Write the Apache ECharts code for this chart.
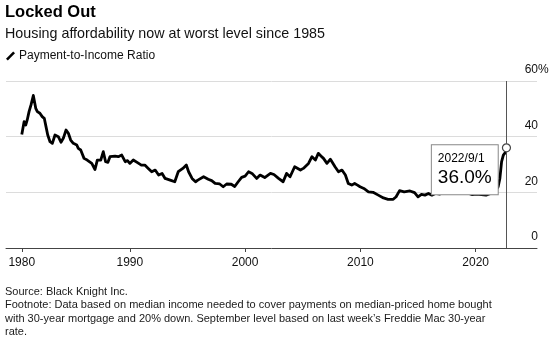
<!DOCTYPE html>
<html>
<head>
<meta charset="utf-8">
<script src="https://cdn.jsdelivr.net/npm/echarts@6/dist/echarts.min.js"></script>
<style>
  html, body { margin: 0; padding: 0; background: #fff; }
  #chart { width: 560px; height: 353px; }
</style>
</head>
<body>
<div id="chart"></div>
<script>
// decimal years
const dates = [
  1980.63, 1980.83, 1980.97, 1981.10, 1981.26, 1981.43, 1981.63, 1981.84, 1981.98, 1982.20,
  1982.40, 1982.58, 1982.73, 1982.88, 1983.08, 1983.28, 1983.51, 1983.80, 1984.03, 1984.23,
  1984.47, 1984.67, 1984.87, 1985.10, 1985.40, 1985.53, 1985.74, 1986.03, 1986.30, 1986.70,
  1986.98, 1987.18, 1987.48, 1987.70, 1987.90, 1988.10, 1988.28, 1988.72, 1989.00, 1989.30,
  1989.60, 1989.80, 1990.00, 1990.30, 1990.70, 1991.00, 1991.30, 1991.60, 1991.90, 1992.20,
  1992.50, 1992.80, 1993.06, 1993.50, 1993.90, 1994.20, 1994.60, 1994.90, 1995.10, 1995.40,
  1995.70, 1995.90, 1996.40, 1996.80, 1997.10, 1997.40, 1997.80, 1998.10, 1998.40, 1998.80,
  1999.10, 1999.40, 1999.70, 2000.00, 2000.30, 2000.60, 2001.00, 2001.30, 2001.70, 2002.20,
  2002.50, 2002.90, 2003.30, 2003.60, 2003.90, 2004.30, 2004.80, 2005.05, 2005.50, 2005.80,
  2006.10, 2006.35, 2006.60, 2006.80, 2007.10, 2007.40, 2007.80, 2008.10, 2008.40, 2008.70,
  2008.95, 2009.25, 2009.50, 2009.75, 2009.97, 2010.30, 2010.70, 2011.10, 2011.55, 2012.00,
  2012.40, 2012.85, 2013.10, 2013.40, 2013.80, 2014.30, 2014.70, 2015.00, 2015.30, 2015.60,
  2015.90, 2016.20, 2016.50, 2016.90, 2017.30, 2017.70, 2018.10, 2018.50, 2018.90, 2019.30,
  2019.70, 2020.10, 2020.50, 2020.90, 2021.30, 2021.70, 2021.95, 2022.10, 2022.25, 2022.40,
  2022.55, 2022.67
];

// payment-to-income ratio, %
const ratio = [
  40.8, 45.4, 44.2, 46.0, 49.0, 51.4, 54.8, 50.2, 49.0, 48.4,
  47.2, 46.6, 43.6, 40.6, 38.2, 37.6, 40.6, 40.0, 38.0, 39.4,
  42.4, 41.2, 38.8, 37.6, 37.0, 35.8, 35.2, 32.2, 31.6, 30.4,
  28.2, 31.6, 31.6, 34.6, 31.0, 30.8, 32.8, 33.0, 32.8, 33.4,
  31.0, 31.4, 30.4, 31.6, 30.6, 29.8, 29.8, 28.6, 27.4, 28.0,
  26.2, 26.8, 25.0, 24.4, 23.8, 27.4, 28.6, 29.8, 27.4, 25.0,
  23.8, 24.4, 25.6, 24.7, 24.2, 23.2, 23.0, 22.0, 23.0, 22.9,
  22.1, 23.8, 25.4, 25.8, 27.4, 26.8, 25.0, 26.2, 25.3, 26.8,
  26.4, 25.0, 23.8, 26.8, 25.6, 29.2, 28.0, 28.6, 30.4, 32.8,
  31.6, 34.0, 33.0, 32.2, 30.4, 31.9, 29.2, 27.4, 28.0, 26.2,
  23.2, 22.6, 23.2, 22.6, 22.0, 21.4, 20.2, 20.0, 19.0, 18.0,
  17.5, 17.5, 18.4, 20.6, 20.2, 20.5, 19.9, 18.4, 19.3, 19.0,
  19.6, 19.0, 19.6, 19.4, 20.0, 19.6, 20.2, 20.6, 20.4, 19.8,
  19.2, 19.4, 19.2, 19.0, 19.6, 20.4, 22.0, 25.0, 31.0, 33.4,
  34.2, 36.0
];

const yearTicks = [1980.63, 1990, 2000, 2010, 2020];
const yTicks = [0, 20, 40, 60];
const lastLabel = '2022/9/1';

const FONT = '"Liberation Sans", Arial, sans-serif';
const chart = echarts.init(document.getElementById('chart'));

const last = dates.length - 1;

const option = {
  animation: false,
  textStyle: { fontFamily: FONT },
  title: {
    text: 'Locked Out',
    subtext: 'Housing affordability now at worst level since 1985',
    left: 5,
    top: 4,
    padding: 0,
    itemGap: 6,
    textStyle: { fontSize: 16.5, fontWeight: 'bold', color: '#000', fontFamily: FONT },
    subtextStyle: { fontSize: 14.3, color: '#111', fontFamily: FONT }
  },
  legend: {
    left: 6,
    top: 50,
    padding: 0,
    itemWidth: 9,
    itemHeight: 9,
    itemGap: 6,
    icon: 'path://M0,9 L8,1 L10,3 L2,11 Z',
    textStyle: { fontSize: 12, color: '#111', fontFamily: FONT, padding: [0, 0, 0, -1] },
    data: ['Payment-to-Income Ratio']
  },
  grid: { left: 6, right: 23, top: 81, bottom: 105 },
  xAxis: {
    type: 'value',
    min: 1979.26,
    max: 2025.32,
    splitLine: { show: false },
    axisLine: { lineStyle: { color: '#444', width: 1 } },
    axisTick: { show: true, length: 4, lineStyle: { color: '#444' }, customValues: yearTicks },
    axisLabel: {
      color: '#111',
      fontSize: 12,
      margin: 9,
      customValues: yearTicks,
      formatter: v => String(Math.floor(v))
    }
  },
  yAxis: {
    type: 'value',
    position: 'right',
    min: 0,
    max: 60,
    interval: 20,
    axisLine: { show: false },
    axisTick: { show: false },
    splitLine: { lineStyle: { color: '#dcdcdc', width: 1 } },
    axisLabel: {
      inside: true,
      margin: -1,
      color: '#111',
      fontSize: 12,
      verticalAlign: 'bottom',
      lineHeight: 12,
      padding: [0, 0, 5, 0],
      customValues: yTicks,
      formatter: v => String(v)
    }
  },
  graphic: [
    {
      type: 'text',
      left: 538,
      top: 64,
      style: { text: '%', fontSize: 12, fill: '#111', fontFamily: FONT }
    },
    {
      type: 'text',
      left: 5,
      top: 285,
      style: {
        text: 'Source: Black Knight Inc.\n' +
          'Footnote: Data based on median income needed to cover payments on median-priced home bought\n' +
          'with 30-year mortgage and 20% down. September level based on last week\u2019s Freddie Mac 30-year\n' +
          'rate.',
        fontSize: 11,
        lineHeight: 13.4,
        fill: '#1a1a1a',
        fontFamily: FONT
      }
    }
  ],
  series: [
    {
      name: 'Payment-to-Income Ratio',
      type: 'line',
      data: dates.map((d, i) => [d, ratio[i]]),
      showSymbol: false,
      lineStyle: { width: 2.8, color: '#000', join: 'round' },
      itemStyle: { color: '#000' },
      markLine: {
        silent: true,
        symbol: ['none', 'none'],
        label: { show: false },
        lineStyle: { color: '#555', width: 1, type: 'solid' },
        data: [{ xAxis: dates[last] }]
      },
      markPoint: {
        silent: true,
        symbol: 'circle',
        symbolSize: 8,
        itemStyle: { color: '#fff', borderColor: '#444', borderWidth: 1.2 },
        data: [{ coord: [dates[last], ratio[last]] }],
        label: {
          show: true,
          position: [-70, 2],
          backgroundColor: '#fff',
          borderColor: '#888',
          borderWidth: 1,
          padding: [5, 6, 5, 6],
          formatter: () => `{d|${lastLabel}}\n{v|${ratio[last].toFixed(1)}%}`,
          rich: {
            d: { fontSize: 12, lineHeight: 17, color: '#000', fontFamily: FONT },
            v: { fontSize: 19, lineHeight: 22, color: '#000', fontFamily: FONT }
          }
        }
      }
    }
  ]
};

chart.setOption(option);
</script>
</body>
</html>
